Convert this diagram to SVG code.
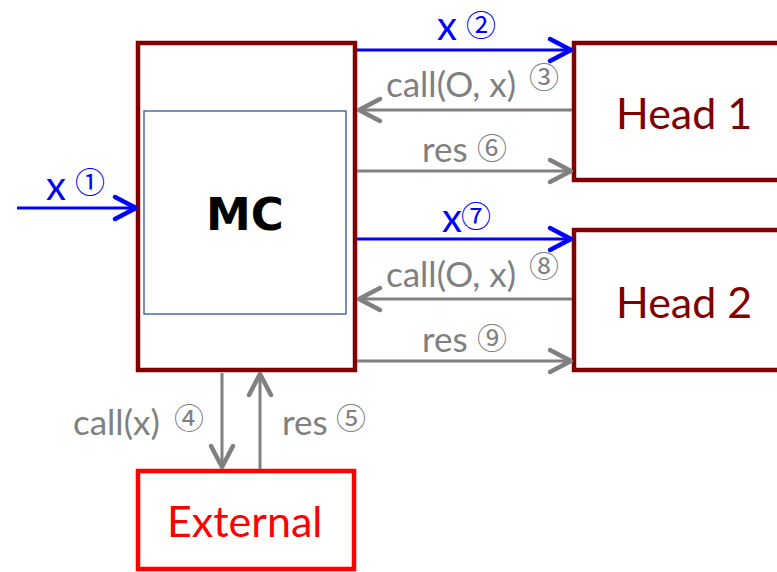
<svg xmlns="http://www.w3.org/2000/svg" width="777" height="572" viewBox="0 0 777 572">
<style>
.box{fill:#fff;stroke:#800000;stroke-width:4.5}
.ext{fill:#fff;stroke:#ff0000;stroke-width:4.5}
.inner{fill:none;stroke:#2f5597;stroke-width:1.3}
.lb{fill:none;stroke:#0000ff;stroke-width:3}
.lg{fill:none;stroke:#808080;stroke-width:3}
.tb{font-family:Lato,"Liberation Sans",sans-serif;font-size:40px;fill:#0000ff}
.tg{font-family:Lato,"Liberation Sans",sans-serif;font-size:35px;fill:#808080}
.num{font-family:"Noto Sans CJK SC","Noto Sans CJK JP",sans-serif;font-size:30px}
.th{font-family:Lato,"Liberation Sans",sans-serif;font-size:43px;fill:#800000}
.te{font-family:Lato,"Liberation Sans",sans-serif;font-size:43px;fill:#ff0000}
.tmc{font-family:"DejaVu Sans",sans-serif;font-weight:bold;font-size:45px;fill:#000}
</style>
<defs>
<marker id="ab" viewBox="-28 -16 32 32" refX="0" refY="0" markerWidth="32" markerHeight="32" markerUnits="userSpaceOnUse" orient="auto">
<path d="M-21,-11 L0,0 L-21,11" fill="none" stroke="#0000ff" stroke-width="4.5" stroke-linecap="round" stroke-linejoin="round"/>
</marker>
<marker id="ag" viewBox="-28 -16 32 32" refX="0" refY="0" markerWidth="32" markerHeight="32" markerUnits="userSpaceOnUse" orient="auto">
<path d="M-21,-11 L0,0 L-21,11" fill="none" stroke="#808080" stroke-width="4.5" stroke-linecap="round" stroke-linejoin="round"/>
</marker>
</defs>
<g id="MC">
<rect class="box" x="138" y="43" width="217" height="327"/>
<rect class="inner" x="144" y="111" width="202" height="203"/>
<text class="tmc" x="245" y="230" text-anchor="middle">MC</text>
</g>
<g id="Head1">
<rect class="box" x="574" y="43" width="220" height="137"/>
<text class="th" x="616" y="129">Head 1</text>
</g>
<g id="Head2">
<rect class="box" x="574" y="230" width="220" height="140"/>
<text class="th" x="616" y="318">Head 2</text>
</g>
<g id="External">
<rect class="ext" x="138" y="471" width="216" height="98"/>
<text class="te" x="167" y="537">External</text>
</g>
<g id="connectors">
<line class="lb" x1="17" y1="208" x2="136" y2="208" marker-end="url(#ab)"/>
<line class="lb" x1="357" y1="50" x2="571" y2="50" marker-end="url(#ab)"/>
<line class="lg" x1="572" y1="110" x2="359" y2="110" marker-end="url(#ag)"/>
<line class="lg" x1="357" y1="171" x2="571" y2="171" marker-end="url(#ag)"/>
<line class="lb" x1="357" y1="239" x2="571" y2="239" marker-end="url(#ab)"/>
<line class="lg" x1="572" y1="299" x2="359" y2="299" marker-end="url(#ag)"/>
<line class="lg" x1="357" y1="361" x2="571" y2="361" marker-end="url(#ag)"/>
<line class="lg" x1="222" y1="373" x2="222" y2="467" marker-end="url(#ag)"/>
<line class="lg" x1="260" y1="469" x2="260" y2="374" marker-end="url(#ag)"/>
</g>
<g id="labels">
<text class="tb" x="46" y="200">x<tspan class="num" x="75" y="193">①</tspan></text>
<text class="tb" x="437" y="40">x<tspan class="num" x="466" y="36">②</tspan></text>
<text class="tg" x="386" y="97">call(O, x)<tspan class="num" x="529" y="88">③</tspan></text>
<text class="tg" x="422" y="162">res<tspan class="num" x="477" y="159">⑥</tspan></text>
<text class="tb" x="442" y="232">x<tspan class="num" x="461" y="227">⑦</tspan></text>
<text class="tg" x="386" y="287">call(O, x)<tspan class="num" x="529" y="277">⑧</tspan></text>
<text class="tg" x="422" y="352">res<tspan class="num" x="477" y="349">⑨</tspan></text>
<text class="tg" x="73" y="435">call(x)<tspan class="num" x="174" y="429">④</tspan></text>
<text class="tg" x="282" y="435">res<tspan class="num" x="336" y="429">⑤</tspan></text>
</g>
</svg>
